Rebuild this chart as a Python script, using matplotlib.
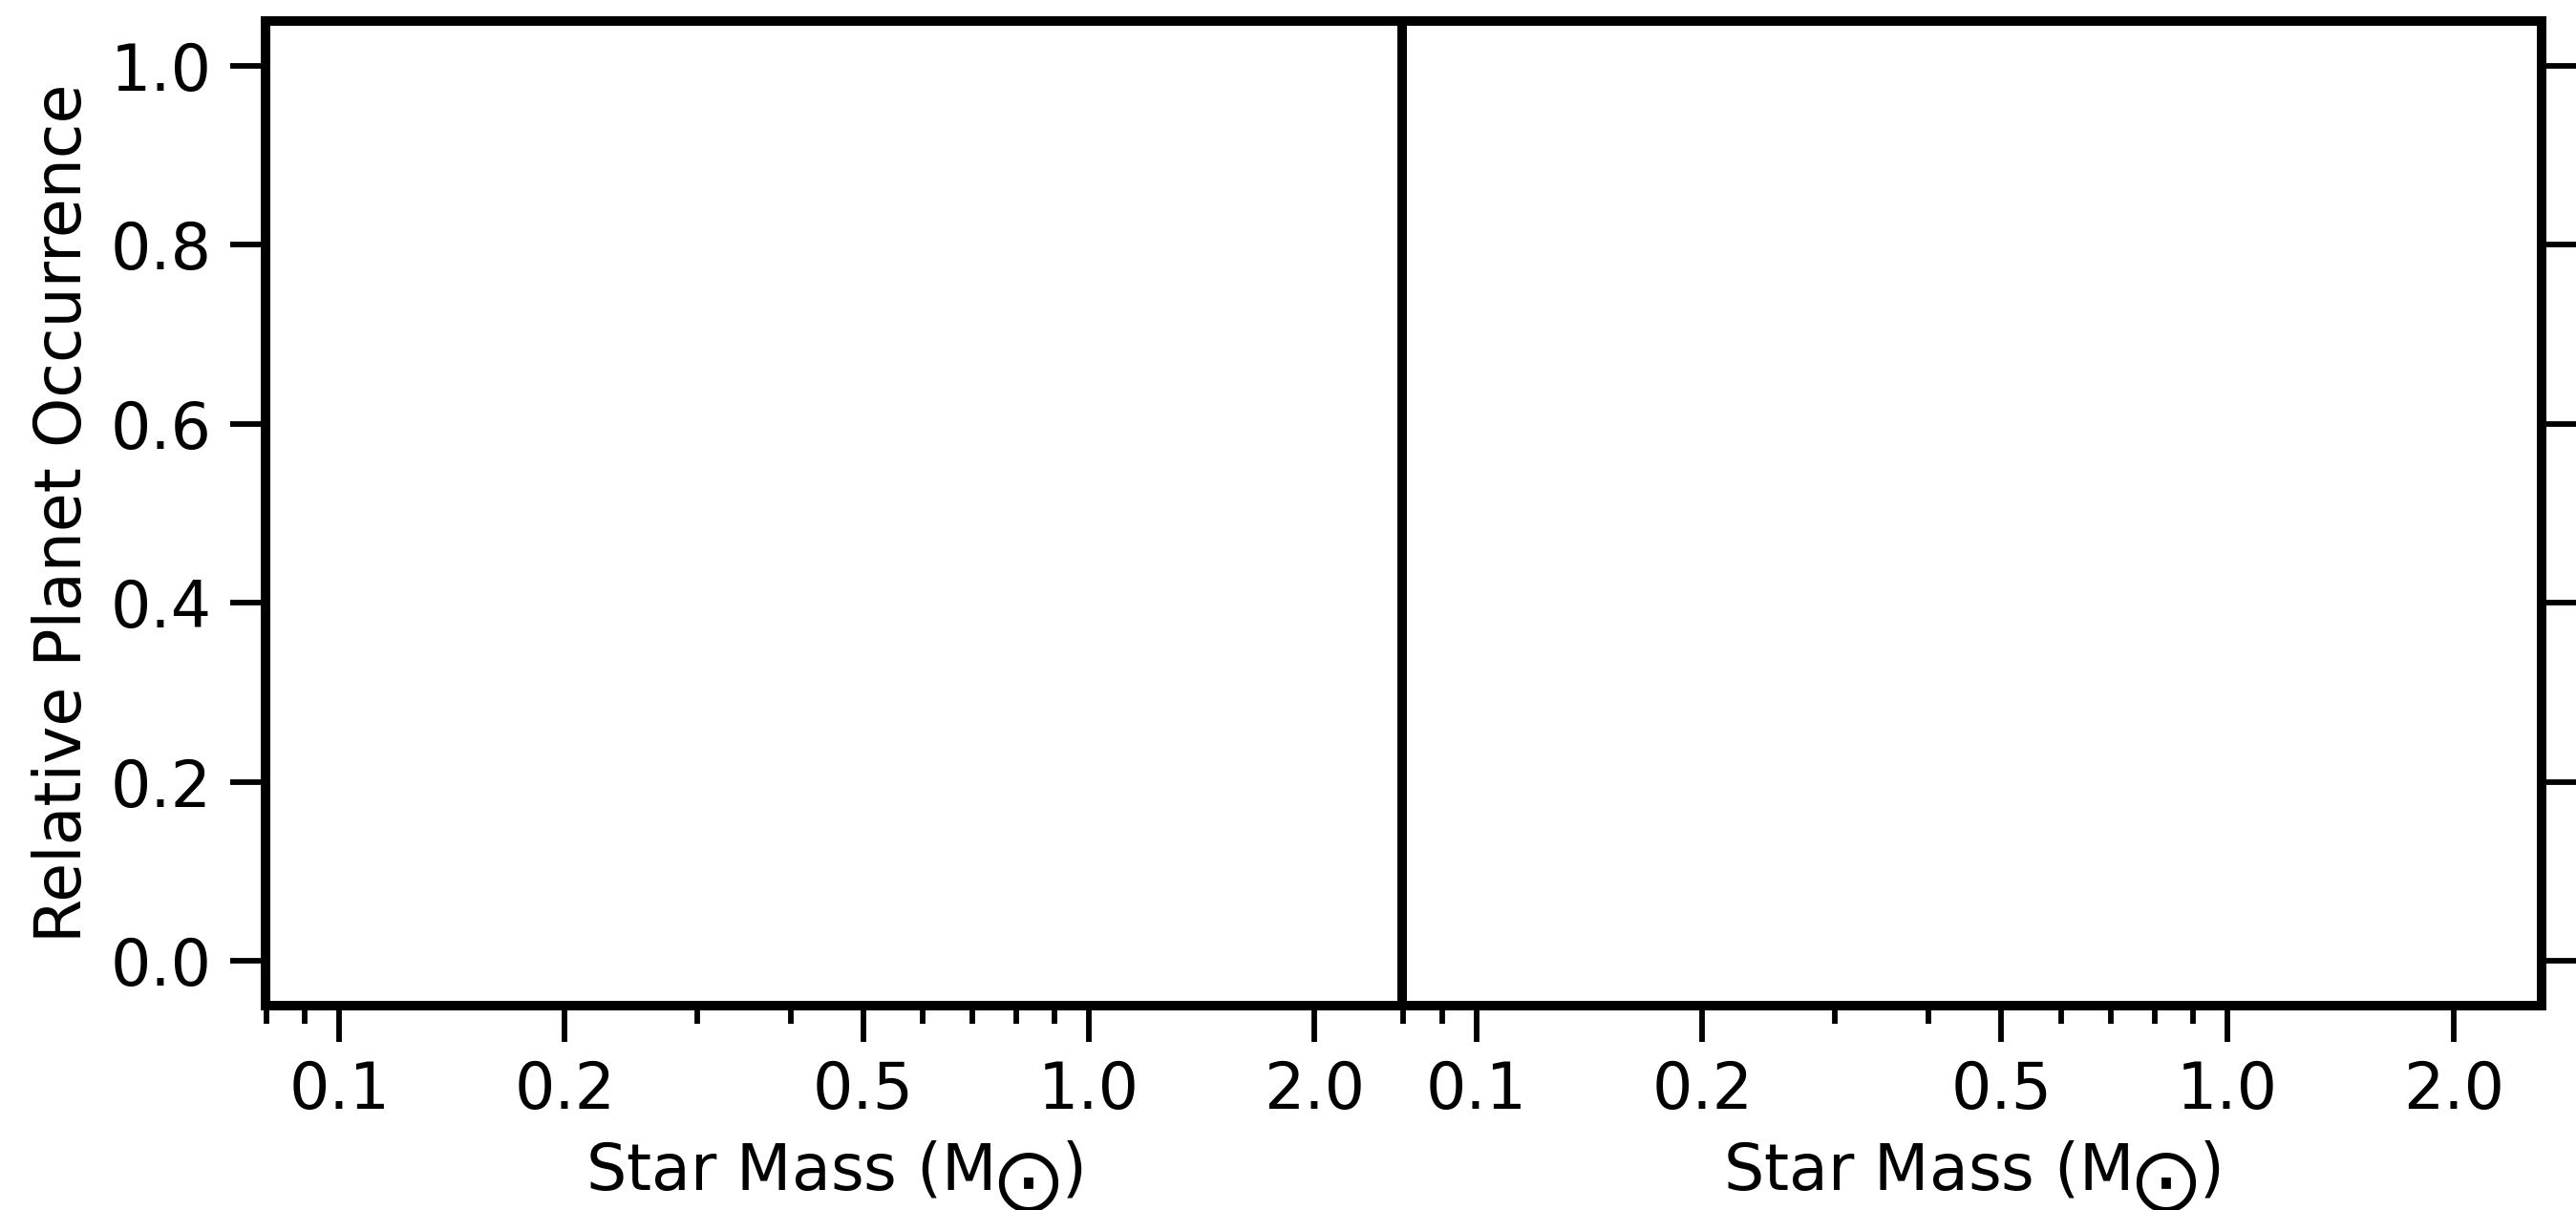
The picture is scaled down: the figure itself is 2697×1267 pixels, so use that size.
import matplotlib
matplotlib.use("Agg")
import matplotlib.pyplot as plt
from matplotlib.ticker import FixedLocator, FixedFormatter, LogLocator, NullFormatter

# chart content (the reference panels are empty)
x_limits = (0.0797, 2.62)
y_limits = (-0.05, 1.05)
x_major_ticks = [0.1, 0.2, 0.5, 1.0, 2.0]
x_major_labels = ["0.1", "0.2", "0.5", "1.0", "2.0"]
y_ticks = [0.0, 0.2, 0.4, 0.6, 0.8, 1.0]
y_labels = ["0.0", "0.2", "0.4", "0.6", "0.8", "1.0"]
x_label = r"Star Mass (M$_{\bigodot}$)"
y_label = "Relative Planet Occurrence"

W, H, DPI = 2697, 1267, 300
fig = plt.figure(figsize=(W / DPI, H / DPI), dpi=DPI)

left_px, mid_px, right_px = 278, 1468, 2661
top_px, bot_px = 22, 1053
b = (H - bot_px) / H
h = (bot_px - top_px) / H
ax1 = fig.add_axes([left_px / W, b, (mid_px - left_px) / W, h])
ax2 = fig.add_axes([mid_px / W, b, (right_px - mid_px) / W, h])

for ax in (ax1, ax2):
    ax.set_xscale("log")
    ax.set_xlim(*x_limits)
    ax.set_ylim(*y_limits)
    ax.xaxis.set_major_locator(FixedLocator(x_major_ticks))
    ax.xaxis.set_major_formatter(FixedFormatter(x_major_labels))
    ax.xaxis.set_minor_locator(LogLocator(base=10, subs=range(2, 10), numticks=20))
    ax.xaxis.set_minor_formatter(NullFormatter())
    ax.yaxis.set_major_locator(FixedLocator(y_ticks))
    for s in ax.spines.values():
        s.set_linewidth(2.4)
        s.set_color("black")
    ax.tick_params(which="major", length=9, width=1.4, pad=4.5, labelsize=16,
                   colors="black", direction="out")
    ax.tick_params(which="minor", length=4.5, width=1.4, direction="out")
    ax.set_xlabel(x_label, fontsize=16)

ax1.yaxis.set_major_formatter(FixedFormatter(y_labels))
ax1.set_ylabel(y_label, fontsize=16)
ax2.yaxis.tick_right()
ax2.tick_params(axis="y", labelright=False, labelleft=False)

fig.savefig("out.png", dpi=DPI)
